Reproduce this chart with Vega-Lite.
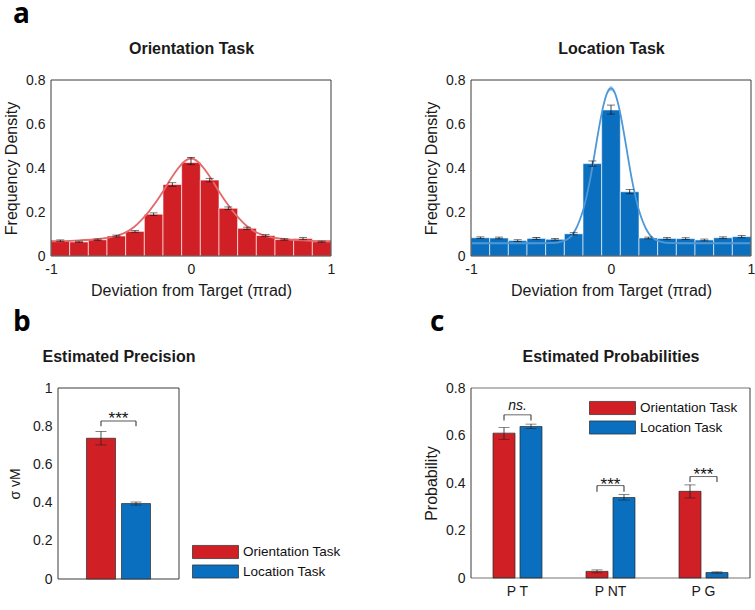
{
  "$schema": "https://vega.github.io/schema/vega-lite/v6.json",
  "autosize": {"type": "none"},
  "padding": {"left": 51, "top": 80, "right": 704, "bottom": 530},
  "background": "white",
  "columns": 2,
  "spacing": {"row": 132, "column": 140},
  "bounds": "flush",
  "resolve": {
    "scale": {"x": "independent", "y": "independent", "xOffset": "independent", "color": "independent"},
    "legend": {"color": "independent"}
  },
  "datasets": {
    "frameRow": [{"frame": "box"}],
    "histO": [
      {"x0": -1, "x1": -0.8667, "center": -0.9333, "density": 0.069, "lo": 0.065, "hi": 0.073},
      {"x0": -0.8667, "x1": -0.7333, "center": -0.8, "density": 0.064, "lo": 0.061, "hi": 0.067},
      {"x0": -0.7333, "x1": -0.6, "center": -0.6667, "density": 0.074, "lo": 0.071, "hi": 0.077},
      {"x0": -0.6, "x1": -0.4667, "center": -0.5333, "density": 0.091, "lo": 0.087, "hi": 0.095},
      {"x0": -0.4667, "x1": -0.3333, "center": -0.4, "density": 0.112, "lo": 0.108, "hi": 0.116},
      {"x0": -0.3333, "x1": -0.2, "center": -0.2667, "density": 0.19, "lo": 0.184, "hi": 0.196},
      {"x0": -0.2, "x1": -0.0667, "center": -0.1333, "density": 0.325, "lo": 0.317, "hi": 0.333},
      {"x0": -0.0667, "x1": 0.0667, "center": 0, "density": 0.425, "lo": 0.415, "hi": 0.448},
      {"x0": 0.0667, "x1": 0.2, "center": 0.1333, "density": 0.345, "lo": 0.337, "hi": 0.353},
      {"x0": 0.2, "x1": 0.3333, "center": 0.2667, "density": 0.217, "lo": 0.211, "hi": 0.223},
      {"x0": 0.3333, "x1": 0.4667, "center": 0.4, "density": 0.126, "lo": 0.121, "hi": 0.131},
      {"x0": 0.4667, "x1": 0.6, "center": 0.5333, "density": 0.093, "lo": 0.089, "hi": 0.097},
      {"x0": 0.6, "x1": 0.7333, "center": 0.6667, "density": 0.075, "lo": 0.072, "hi": 0.078},
      {"x0": 0.7333, "x1": 0.8667, "center": 0.8, "density": 0.079, "lo": 0.074, "hi": 0.084},
      {"x0": 0.8667, "x1": 1, "center": 0.9333, "density": 0.065, "lo": 0.062, "hi": 0.068}
    ],
    "histL": [
      {"x0": -1, "x1": -0.8667, "center": -0.9333, "density": 0.083, "lo": 0.079, "hi": 0.087},
      {"x0": -0.8667, "x1": -0.7333, "center": -0.8, "density": 0.082, "lo": 0.078, "hi": 0.086},
      {"x0": -0.7333, "x1": -0.6, "center": -0.6667, "density": 0.07, "lo": 0.066, "hi": 0.074},
      {"x0": -0.6, "x1": -0.4667, "center": -0.5333, "density": 0.08, "lo": 0.076, "hi": 0.084},
      {"x0": -0.4667, "x1": -0.3333, "center": -0.4, "density": 0.076, "lo": 0.072, "hi": 0.08},
      {"x0": -0.3333, "x1": -0.2, "center": -0.2667, "density": 0.101, "lo": 0.096, "hi": 0.106},
      {"x0": -0.2, "x1": -0.0667, "center": -0.1333, "density": 0.42, "lo": 0.408, "hi": 0.432},
      {"x0": -0.0667, "x1": 0.0667, "center": 0, "density": 0.664, "lo": 0.645, "hi": 0.686},
      {"x0": 0.0667, "x1": 0.2, "center": 0.1333, "density": 0.292, "lo": 0.283, "hi": 0.302},
      {"x0": 0.2, "x1": 0.3333, "center": 0.2667, "density": 0.082, "lo": 0.078, "hi": 0.086},
      {"x0": 0.3333, "x1": 0.4667, "center": 0.4, "density": 0.08, "lo": 0.076, "hi": 0.084},
      {"x0": 0.4667, "x1": 0.6, "center": 0.5333, "density": 0.079, "lo": 0.075, "hi": 0.083},
      {"x0": 0.6, "x1": 0.7333, "center": 0.6667, "density": 0.073, "lo": 0.069, "hi": 0.077},
      {"x0": 0.7333, "x1": 0.8667, "center": 0.8, "density": 0.083, "lo": 0.079, "hi": 0.087},
      {"x0": 0.8667, "x1": 1, "center": 0.9333, "density": 0.088, "lo": 0.083, "hi": 0.093}
    ],
    "curveO": [
      {"x": -1, "y": 0.067, "lo": 0.065, "hi": 0.069},
      {"x": -0.9, "y": 0.068, "lo": 0.066, "hi": 0.07},
      {"x": -0.8, "y": 0.071, "lo": 0.069, "hi": 0.073},
      {"x": -0.7, "y": 0.075, "lo": 0.073, "hi": 0.077},
      {"x": -0.6, "y": 0.082, "lo": 0.08, "hi": 0.084},
      {"x": -0.55, "y": 0.088, "lo": 0.086, "hi": 0.09},
      {"x": -0.5, "y": 0.098, "lo": 0.096, "hi": 0.1},
      {"x": -0.45, "y": 0.113, "lo": 0.111, "hi": 0.115},
      {"x": -0.4, "y": 0.135, "lo": 0.132, "hi": 0.138},
      {"x": -0.35, "y": 0.166, "lo": 0.163, "hi": 0.169},
      {"x": -0.3, "y": 0.203, "lo": 0.199, "hi": 0.207},
      {"x": -0.25, "y": 0.245, "lo": 0.241, "hi": 0.249},
      {"x": -0.2, "y": 0.293, "lo": 0.289, "hi": 0.297},
      {"x": -0.15, "y": 0.345, "lo": 0.341, "hi": 0.349},
      {"x": -0.1, "y": 0.392, "lo": 0.386, "hi": 0.398},
      {"x": -0.05, "y": 0.428, "lo": 0.422, "hi": 0.434},
      {"x": 0, "y": 0.444, "lo": 0.438, "hi": 0.45},
      {"x": 0.05, "y": 0.428, "lo": 0.422, "hi": 0.434},
      {"x": 0.1, "y": 0.392, "lo": 0.386, "hi": 0.398},
      {"x": 0.15, "y": 0.345, "lo": 0.341, "hi": 0.349},
      {"x": 0.2, "y": 0.293, "lo": 0.289, "hi": 0.297},
      {"x": 0.25, "y": 0.245, "lo": 0.241, "hi": 0.249},
      {"x": 0.3, "y": 0.203, "lo": 0.199, "hi": 0.207},
      {"x": 0.35, "y": 0.166, "lo": 0.163, "hi": 0.169},
      {"x": 0.4, "y": 0.135, "lo": 0.132, "hi": 0.138},
      {"x": 0.45, "y": 0.113, "lo": 0.111, "hi": 0.115},
      {"x": 0.5, "y": 0.098, "lo": 0.096, "hi": 0.1},
      {"x": 0.55, "y": 0.088, "lo": 0.086, "hi": 0.09},
      {"x": 0.6, "y": 0.082, "lo": 0.08, "hi": 0.084},
      {"x": 0.7, "y": 0.075, "lo": 0.073, "hi": 0.077},
      {"x": 0.8, "y": 0.071, "lo": 0.069, "hi": 0.073},
      {"x": 0.9, "y": 0.068, "lo": 0.066, "hi": 0.07},
      {"x": 1, "y": 0.067, "lo": 0.065, "hi": 0.069}
    ],
    "curveL": [
      {"x": -1, "y": 0.058, "lo": 0.055, "hi": 0.061},
      {"x": -0.7, "y": 0.058, "lo": 0.055, "hi": 0.061},
      {"x": -0.5, "y": 0.058, "lo": 0.055, "hi": 0.061},
      {"x": -0.4, "y": 0.06, "lo": 0.057, "hi": 0.063},
      {"x": -0.35, "y": 0.066, "lo": 0.063, "hi": 0.069},
      {"x": -0.3, "y": 0.081, "lo": 0.078, "hi": 0.084},
      {"x": -0.275, "y": 0.098, "lo": 0.094, "hi": 0.102},
      {"x": -0.25, "y": 0.124, "lo": 0.12, "hi": 0.128},
      {"x": -0.225, "y": 0.16, "lo": 0.156, "hi": 0.164},
      {"x": -0.2, "y": 0.207, "lo": 0.203, "hi": 0.211},
      {"x": -0.175, "y": 0.27, "lo": 0.264, "hi": 0.276},
      {"x": -0.15, "y": 0.345, "lo": 0.339, "hi": 0.351},
      {"x": -0.125, "y": 0.435, "lo": 0.429, "hi": 0.441},
      {"x": -0.1, "y": 0.53, "lo": 0.524, "hi": 0.536},
      {"x": -0.075, "y": 0.62, "lo": 0.611, "hi": 0.629},
      {"x": -0.05, "y": 0.695, "lo": 0.686, "hi": 0.704},
      {"x": -0.025, "y": 0.745, "lo": 0.736, "hi": 0.754},
      {"x": 0, "y": 0.762, "lo": 0.751, "hi": 0.773},
      {"x": 0.025, "y": 0.745, "lo": 0.736, "hi": 0.754},
      {"x": 0.05, "y": 0.695, "lo": 0.686, "hi": 0.704},
      {"x": 0.075, "y": 0.62, "lo": 0.611, "hi": 0.629},
      {"x": 0.1, "y": 0.53, "lo": 0.524, "hi": 0.536},
      {"x": 0.125, "y": 0.435, "lo": 0.429, "hi": 0.441},
      {"x": 0.15, "y": 0.345, "lo": 0.339, "hi": 0.351},
      {"x": 0.175, "y": 0.27, "lo": 0.264, "hi": 0.276},
      {"x": 0.2, "y": 0.207, "lo": 0.203, "hi": 0.211},
      {"x": 0.225, "y": 0.16, "lo": 0.156, "hi": 0.164},
      {"x": 0.25, "y": 0.124, "lo": 0.12, "hi": 0.128},
      {"x": 0.275, "y": 0.098, "lo": 0.094, "hi": 0.102},
      {"x": 0.3, "y": 0.081, "lo": 0.078, "hi": 0.084},
      {"x": 0.35, "y": 0.066, "lo": 0.063, "hi": 0.069},
      {"x": 0.4, "y": 0.06, "lo": 0.057, "hi": 0.063},
      {"x": 0.5, "y": 0.058, "lo": 0.055, "hi": 0.061},
      {"x": 0.7, "y": 0.058, "lo": 0.055, "hi": 0.061},
      {"x": 1, "y": 0.058, "lo": 0.055, "hi": 0.061}
    ],
    "precision": [
      {"measure": "σ", "task": "Orientation Task", "value": 0.737, "lo": 0.702, "hi": 0.772},
      {"measure": "σ", "task": "Location Task", "value": 0.395, "lo": 0.387, "hi": 0.403}
    ],
    "sigBLegs": [
      {"measure": "σ", "task": "Orientation Task", "y": 0.8, "y2": 0.827},
      {"measure": "σ", "task": "Location Task", "y": 0.8, "y2": 0.827}
    ],
    "sigBTop": [
      {"measure": "σ", "yb": 0.827, "ty": 0.81, "label": "***"}
    ],
    "probs": [
      {"param": "P T", "task": "Orientation Task", "value": 0.61, "lo": 0.584, "hi": 0.634},
      {"param": "P T", "task": "Location Task", "value": 0.638, "lo": 0.629, "hi": 0.648},
      {"param": "P NT", "task": "Orientation Task", "value": 0.028, "lo": 0.022, "hi": 0.034},
      {"param": "P NT", "task": "Location Task", "value": 0.339, "lo": 0.328, "hi": 0.351},
      {"param": "P G", "task": "Orientation Task", "value": 0.365, "lo": 0.337, "hi": 0.392},
      {"param": "P G", "task": "Location Task", "value": 0.023, "lo": 0.02, "hi": 0.026}
    ],
    "sigCLegs": [
      {"param": "P T", "task": "Orientation Task", "y": 0.663, "y2": 0.687},
      {"param": "P T", "task": "Location Task", "y": 0.663, "y2": 0.687},
      {"param": "P NT", "task": "Orientation Task", "y": 0.363, "y2": 0.389},
      {"param": "P NT", "task": "Location Task", "y": 0.363, "y2": 0.389},
      {"param": "P G", "task": "Orientation Task", "y": 0.404, "y2": 0.427},
      {"param": "P G", "task": "Location Task", "y": 0.404, "y2": 0.427}
    ],
    "sigCTop": [
      {"param": "P T", "yb": 0.687, "ty": 0.708, "label": "ns."},
      {"param": "P NT", "yb": 0.389, "ty": 0.372, "label": "***"},
      {"param": "P G", "yb": 0.427, "ty": 0.411, "label": "***"}
    ]
  },
  "concat": [
    {
      "width": 280, "height": 176,
      "title": {"text": "a", "dx": -38},
      "resolve": {"axis": {"x": "independent", "y": "independent"}},
      "layer": [
        {"data": {"name": "histO"}, "mark": {"type": "bar", "fill": "#D01F25", "stroke": "#ffffff", "strokeOpacity": 0.6, "strokeWidth": 1},
          "encoding": {
            "x": {"field": "x0", "type": "quantitative", "scale": {"domain": [-1, 1], "nice": false, "zero": false},
              "axis": {"values": [-1, 0, 1], "title": "Deviation from Target (πrad)", "labelExpr": "datum.value < 0 ? '-' + format(-datum.value, 'd') : format(datum.value, 'd')"}},
            "x2": {"field": "x1"},
            "y": {"field": "density", "type": "quantitative", "scale": {"domain": [0, 0.8], "nice": false},
              "axis": {"values": [0, 0.2, 0.4, 0.6, 0.8], "format": ".1~f", "title": "Frequency Density"}},
            "y2": {"datum": 0}
          }},
        {"data": {"name": "curveO"}, "mark": {"type": "area", "fill": "#E36B6B", "opacity": 0.45, "interpolate": "monotone"},
          "encoding": {"x": {"field": "x", "type": "quantitative", "axis": null}, "y": {"field": "lo", "type": "quantitative", "axis": null}, "y2": {"field": "hi"}}},
        {"data": {"name": "curveO"}, "mark": {"type": "line", "stroke": "#E36B6B", "strokeWidth": 1.8, "interpolate": "monotone"},
          "encoding": {"x": {"field": "x", "type": "quantitative", "axis": null}, "y": {"field": "y", "type": "quantitative", "axis": null}}},
        {"data": {"name": "histO"}, "mark": {"type": "rule", "stroke": "#111111", "strokeWidth": 0.8},
          "encoding": {
            "x": {"field": "center", "type": "quantitative", "axis": {"orient": "top", "labels": false, "values": [-1, 0, 1], "title": "Orientation Task", "titleFontWeight": "bold", "titlePadding": 24}},
            "y": {"field": "lo", "type": "quantitative", "axis": null},
            "y2": {"field": "hi"}}},
        {"data": {"name": "histO"}, "mark": {"type": "tick", "orient": "horizontal", "size": 8, "thickness": 0.8, "color": "#111111"},
          "encoding": {"x": {"field": "center", "type": "quantitative", "axis": null}, "y": {"field": "lo", "type": "quantitative", "axis": null}}},
        {"data": {"name": "histO"}, "mark": {"type": "tick", "orient": "horizontal", "size": 8, "thickness": 0.8, "color": "#111111"},
          "encoding": {"x": {"field": "center", "type": "quantitative", "axis": null}, "y": {"field": "hi", "type": "quantitative", "axis": null}}},
        {"data": {"name": "frameRow"}, "mark": {"type": "rect", "fill": "white", "fillOpacity": 0, "stroke": "#3a3a3a", "strokeWidth": 1},
          "encoding": {"x": {"datum": -1, "type": "quantitative", "axis": null}, "x2": {"datum": 1}, "y": {"datum": 0, "type": "quantitative", "axis": null}, "y2": {"datum": 0.8}}}
      ]
    },
    {
      "width": 280, "height": 176,
      "resolve": {"axis": {"x": "independent", "y": "independent"}},
      "layer": [
        {"data": {"name": "histL"}, "mark": {"type": "bar", "fill": "#0B6FBF", "stroke": "#ffffff", "strokeOpacity": 0.6, "strokeWidth": 1},
          "encoding": {
            "x": {"field": "x0", "type": "quantitative", "scale": {"domain": [-1, 1], "nice": false, "zero": false},
              "axis": {"values": [-1, 0, 1], "title": "Deviation from Target (πrad)", "labelExpr": "datum.value < 0 ? '-' + format(-datum.value, 'd') : format(datum.value, 'd')"}},
            "x2": {"field": "x1"},
            "y": {"field": "density", "type": "quantitative", "scale": {"domain": [0, 0.8], "nice": false},
              "axis": {"values": [0, 0.2, 0.4, 0.6, 0.8], "format": ".1~f", "title": "Frequency Density"}},
            "y2": {"datum": 0}
          }},
        {"data": {"name": "curveL"}, "mark": {"type": "area", "fill": "#4F98D8", "opacity": 0.5, "interpolate": "monotone"},
          "encoding": {"x": {"field": "x", "type": "quantitative", "axis": null}, "y": {"field": "lo", "type": "quantitative", "axis": null}, "y2": {"field": "hi"}}},
        {"data": {"name": "curveL"}, "mark": {"type": "line", "stroke": "#4F98D8", "strokeWidth": 1.8, "interpolate": "monotone"},
          "encoding": {"x": {"field": "x", "type": "quantitative", "axis": null}, "y": {"field": "y", "type": "quantitative", "axis": null}}},
        {"data": {"name": "histL"}, "mark": {"type": "rule", "stroke": "#111111", "strokeWidth": 0.8},
          "encoding": {
            "x": {"field": "center", "type": "quantitative", "axis": {"orient": "top", "labels": false, "values": [-1, 0, 1], "title": "Location Task", "titleFontWeight": "bold", "titlePadding": 24}},
            "y": {"field": "lo", "type": "quantitative", "axis": null},
            "y2": {"field": "hi"}}},
        {"data": {"name": "histL"}, "mark": {"type": "tick", "orient": "horizontal", "size": 8, "thickness": 0.8, "color": "#111111"},
          "encoding": {"x": {"field": "center", "type": "quantitative", "axis": null}, "y": {"field": "lo", "type": "quantitative", "axis": null}}},
        {"data": {"name": "histL"}, "mark": {"type": "tick", "orient": "horizontal", "size": 8, "thickness": 0.8, "color": "#111111"},
          "encoding": {"x": {"field": "center", "type": "quantitative", "axis": null}, "y": {"field": "hi", "type": "quantitative", "axis": null}}},
        {"data": {"name": "frameRow"}, "mark": {"type": "rect", "fill": "white", "fillOpacity": 0, "stroke": "#3a3a3a", "strokeWidth": 1},
          "encoding": {"x": {"datum": -1, "type": "quantitative", "axis": null}, "x2": {"datum": 1}, "y": {"datum": 0, "type": "quantitative", "axis": null}, "y2": {"datum": 0.8}}}
      ]
    },
    {
      "width": 128, "height": 191,
      "title": {"text": "b", "dx": -38},
      "resolve": {"axis": {"x": "independent", "y": "independent"}},
      "layer": [
        {"data": {"name": "sigBTop"}, "mark": {"type": "rect", "fillOpacity": 0, "fill": "white", "stroke": "#3a3a3a", "strokeWidth": 1},
          "encoding": {
            "x": {"field": "measure", "type": "nominal", "scale": {"range": [7, 128], "paddingInner": 0, "paddingOuter": 0}, "axis": {"labels": false, "ticks": false, "title": null}},
            "y": {"datum": 0, "type": "quantitative", "scale": {"domain": [0, 1], "nice": false},
              "axis": {"values": [0, 0.2, 0.4, 0.6, 0.8, 1], "format": ".1~f", "title": "σ vM", "offset": -7, "titlePadding": 10, "titleFontSize": 14}},
            "y2": {"datum": 1}
          }},
        {"data": {"name": "precision"}, "mark": {"type": "bar", "stroke": "#2a2a2a", "strokeWidth": 0.7, "opacity": 1},
          "encoding": {
            "x": {"field": "measure", "type": "nominal", "axis": null},
            "xOffset": {"field": "task", "type": "nominal", "scale": {"domain": ["Orientation Task", "Location Task"], "paddingInner": 0.171, "paddingOuter": 0.814}},
            "y": {"field": "value", "type": "quantitative", "axis": null},
            "color": {"field": "task", "type": "nominal", "scale": {"domain": ["Orientation Task", "Location Task"], "range": ["#D01F25", "#0B6FBF"]},
              "legend": {"orient": "none", "legendX": 157.5, "legendY": 157, "title": null, "symbolType": "M-3.5,-1H3.5V1H-3.5Z", "symbolSize": 172.7, "labelOffset": 20.4}}
          }},
        {"data": {"name": "precision"}, "mark": {"type": "rule", "stroke": "#222222", "strokeWidth": 0.8},
          "encoding": {
            "x": {"field": "measure", "type": "nominal", "axis": {"orient": "top", "labels": false, "ticks": false, "domain": false, "title": "Estimated Precision", "titleFontWeight": "bold", "titlePadding": 24}},
            "xOffset": {"field": "task", "type": "nominal"},
            "y": {"field": "lo", "type": "quantitative", "axis": null},
            "y2": {"field": "hi"}}},
        {"data": {"name": "precision"}, "mark": {"type": "tick", "orient": "horizontal", "size": 11, "thickness": 0.8, "color": "#222222"},
          "encoding": {"x": {"field": "measure", "type": "nominal", "axis": null}, "xOffset": {"field": "task", "type": "nominal"}, "y": {"field": "lo", "type": "quantitative", "axis": null}}},
        {"data": {"name": "precision"}, "mark": {"type": "tick", "orient": "horizontal", "size": 11, "thickness": 0.8, "color": "#222222"},
          "encoding": {"x": {"field": "measure", "type": "nominal", "axis": null}, "xOffset": {"field": "task", "type": "nominal"}, "y": {"field": "hi", "type": "quantitative", "axis": null}}},
        {"data": {"name": "sigBLegs"}, "mark": {"type": "rule", "stroke": "#111111", "strokeWidth": 0.9},
          "encoding": {"x": {"field": "measure", "type": "nominal", "axis": null}, "xOffset": {"field": "task", "type": "nominal"}, "y": {"field": "y", "type": "quantitative", "axis": null}, "y2": {"field": "y2"}}},
        {"data": {"name": "sigBTop"}, "mark": {"type": "tick", "orient": "horizontal", "size": 35, "thickness": 0.9, "color": "#111111"},
          "encoding": {"x": {"field": "measure", "type": "nominal", "axis": null}, "y": {"field": "yb", "type": "quantitative", "axis": null}}},
        {"data": {"name": "sigBTop"}, "mark": {"type": "text", "font": "Liberation Sans", "fontSize": 17, "baseline": "alphabetic", "align": "center", "color": "#111111"},
          "encoding": {"x": {"field": "measure", "type": "nominal", "axis": null}, "y": {"field": "ty", "type": "quantitative", "axis": null}, "text": {"field": "label"}}}
      ]
    },
    {
      "width": 279, "height": 190,
      "title": {"text": "c", "dx": -41},
      "resolve": {"axis": {"x": "independent", "y": "independent"}},
      "layer": [
        {"data": {"name": "probs"}, "mark": {"type": "bar", "stroke": "#2a2a2a", "strokeWidth": 0.7, "opacity": 1},
          "encoding": {
            "x": {"field": "param", "type": "nominal", "scale": {"domain": ["P T", "P NT", "P G"], "paddingInner": 0, "paddingOuter": 0}, "axis": {"title": null, "labelAngle": 0}},
            "xOffset": {"field": "task", "type": "nominal", "scale": {"domain": ["Orientation Task", "Location Task"], "paddingInner": 0.185, "paddingOuter": 0.815}},
            "y": {"field": "value", "type": "quantitative", "scale": {"domain": [0, 0.8], "nice": false},
              "axis": {"values": [0, 0.2, 0.4, 0.6, 0.8], "format": ".1~f", "title": "Probability"}},
            "color": {"field": "task", "type": "nominal", "scale": {"domain": ["Orientation Task", "Location Task"], "range": ["#D01F25", "#0B6FBF"]},
              "legend": {"orient": "none", "legendX": 134.5, "legendY": 13, "title": null, "symbolType": "M-3.5,-1H3.5V1H-3.5Z", "symbolSize": 172.7, "labelOffset": 20.4}}
          }},
        {"data": {"name": "probs"}, "mark": {"type": "rule", "stroke": "#222222", "strokeWidth": 0.8},
          "encoding": {
            "x": {"field": "param", "type": "nominal", "axis": {"orient": "top", "labels": false, "ticks": false, "domain": false, "title": "Estimated Probabilities", "titleFontWeight": "bold", "titlePadding": 24}},
            "xOffset": {"field": "task", "type": "nominal"},
            "y": {"field": "lo", "type": "quantitative", "axis": null},
            "y2": {"field": "hi"}}},
        {"data": {"name": "probs"}, "mark": {"type": "tick", "orient": "horizontal", "size": 11, "thickness": 0.8, "color": "#222222"},
          "encoding": {"x": {"field": "param", "type": "nominal", "axis": null}, "xOffset": {"field": "task", "type": "nominal"}, "y": {"field": "lo", "type": "quantitative", "axis": null}}},
        {"data": {"name": "probs"}, "mark": {"type": "tick", "orient": "horizontal", "size": 11, "thickness": 0.8, "color": "#222222"},
          "encoding": {"x": {"field": "param", "type": "nominal", "axis": null}, "xOffset": {"field": "task", "type": "nominal"}, "y": {"field": "hi", "type": "quantitative", "axis": null}}},
        {"data": {"name": "sigCLegs"}, "mark": {"type": "rule", "stroke": "#111111", "strokeWidth": 0.9},
          "encoding": {"x": {"field": "param", "type": "nominal", "axis": null}, "xOffset": {"field": "task", "type": "nominal"}, "y": {"field": "y", "type": "quantitative", "axis": null}, "y2": {"field": "y2"}}},
        {"data": {"name": "sigCTop"}, "mark": {"type": "tick", "orient": "horizontal", "size": 27, "thickness": 0.9, "color": "#111111"},
          "encoding": {"x": {"field": "param", "type": "nominal", "axis": null}, "y": {"field": "yb", "type": "quantitative", "axis": null}}},
        {"data": {"name": "sigCTop"}, "transform": [{"filter": "datum.label == '***'"}],
          "mark": {"type": "text", "font": "Liberation Sans", "fontSize": 17, "baseline": "alphabetic", "align": "center", "color": "#111111"},
          "encoding": {"x": {"field": "param", "type": "nominal", "axis": null}, "y": {"field": "ty", "type": "quantitative", "axis": null}, "text": {"field": "label"}}},
        {"data": {"name": "sigCTop"}, "transform": [{"filter": "datum.label == 'ns.'"}],
          "mark": {"type": "text", "font": "Liberation Sans", "fontSize": 14, "fontStyle": "italic", "baseline": "alphabetic", "align": "center", "color": "#111111"},
          "encoding": {"x": {"field": "param", "type": "nominal", "axis": null}, "y": {"field": "ty", "type": "quantitative", "axis": null}, "text": {"field": "label"}}},
        {"data": {"name": "sigCTop"}, "mark": {"type": "tick", "orient": "horizontal", "size": 93, "thickness": 1, "color": "#3a3a3a"},
          "encoding": {"x": {"field": "param", "type": "nominal", "axis": null}, "y": {"datum": 0, "type": "quantitative", "axis": null}}},
        {"data": {"name": "sigCTop"}, "mark": {"type": "tick", "orient": "horizontal", "size": 93, "thickness": 1, "color": "#3a3a3a"},
          "encoding": {"x": {"field": "param", "type": "nominal", "axis": null}, "y": {"datum": 0.8, "type": "quantitative", "axis": null}}},
        {"data": {"name": "frameRow"}, "mark": {"type": "rule", "stroke": "#3a3a3a", "strokeWidth": 1},
          "encoding": {"x": {"datum": "P T", "type": "nominal", "bandPosition": 0, "axis": null}, "y": {"datum": 0, "type": "quantitative", "axis": null}, "y2": {"datum": 0.8}}},
        {"data": {"name": "frameRow"}, "mark": {"type": "rule", "stroke": "#3a3a3a", "strokeWidth": 1},
          "encoding": {"x": {"datum": "P G", "type": "nominal", "bandPosition": 1, "axis": null}, "y": {"datum": 0, "type": "quantitative", "axis": null}, "y2": {"datum": 0.8}}}
      ]
    }
  ],
  "config": {
    "view": {"stroke": null},
    "font": "Liberation Sans",
    "axis": {
      "labelFont": "Liberation Sans", "labelFontSize": 14, "labelColor": "#1a1a1a",
      "titleFont": "Liberation Sans", "titleFontSize": 16, "titleFontWeight": "normal", "titleColor": "#1a1a1a",
      "grid": false, "domain": false, "ticks": false, "labelPadding": 6, "titlePadding": 6,
      "labelFlush": false, "labelOverlap": false
    },
    "title": {"font": "Open Sans", "fontSize": 28, "fontWeight": "bold", "anchor": "start", "frame": "group", "color": "#000000", "offset": 11},
    "legend": {
      "labelFont": "Liberation Sans", "labelFontSize": 13.5, "labelColor": "#111111",
      "rowPadding": 3.5, "padding": 0, "symbolStrokeColor": "#2a2a2a", "symbolStrokeWidth": 0.7, "symbolOpacity": 1
    }
  }
}
